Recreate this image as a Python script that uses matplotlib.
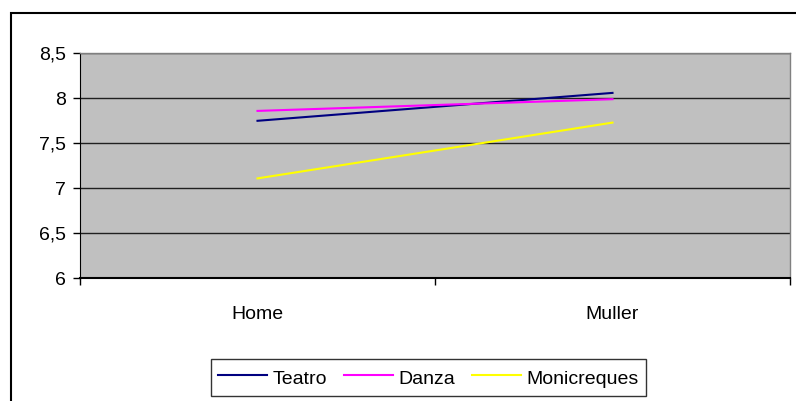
import matplotlib.pyplot as plt
from matplotlib.patches import Rectangle

plt.rcParams['font.family'] = ['Liberation Sans', 'DejaVu Sans']

categories = ['Home', 'Muller']
teatro = [7.75, 8.06]
danza = [7.86, 7.99]
monicreques = [7.11, 7.73]

fig = plt.figure(figsize=(7.96, 4.01), dpi=100)
ax = fig.add_axes([80 / 796, 1 - 278.3 / 401, 710 / 796, 225 / 401])
ax.set_facecolor('#C0C0C0')

x = range(len(categories))
ax.plot(x, teatro, color='#000080', lw=1.5, label='Teatro')
ax.plot(x, danza, color='#FF00FF', lw=1.5, label='Danza')
ax.plot(x, monicreques, color='#FFFF00', lw=1.5, label='Monicreques')

ax.set_xlim(-0.5, 1.5)
ax.set_ylim(6, 8.5)
ax.set_yticks([6, 6.5, 7, 7.5, 8, 8.5])
ax.set_yticklabels(['6', '6,5', '7', '7,5', '8', '8,5'])
ax.set_xticks(list(x))
ax.set_xticklabels(categories)
ax.set_xticks([-0.5, 0.5, 1.5], minor=True)
ax.tick_params(axis='x', which='major', length=0, pad=20, labelsize=14)
ax.tick_params(axis='x', which='minor', length=5, width=1, color='black')
ax.tick_params(axis='y', length=5, width=1, pad=5, labelsize=14)
ax.grid(axis='y', color='#202020', lw=1)
ax.set_axisbelow(True)

for s in ['top', 'right']:
    ax.spines[s].set_color('#808080')
    ax.spines[s].set_linewidth(1)
ax.spines['left'].set_color('black')
ax.spines['bottom'].set_color('black')
ax.spines['bottom'].set_linewidth(1.5)

fig.legend(loc='upper left', bbox_to_anchor=(211 / 796, 1 - 359 / 401), ncol=3,
           fontsize=14, frameon=True, fancybox=False, edgecolor='black',
           handlelength=2.5, handleheight=1.45, handletextpad=0.3,
           columnspacing=0.88, borderpad=0.36, borderaxespad=0)

# outer chart border (only top and left visible)
fig.patches.append(Rectangle((11 / 796, -0.2), 1.0, 1 - 13 / 401 + 0.2,
                             transform=fig.transFigure, fill=False,
                             edgecolor='black', lw=1.5))

fig.savefig('out.png', dpi=100)
